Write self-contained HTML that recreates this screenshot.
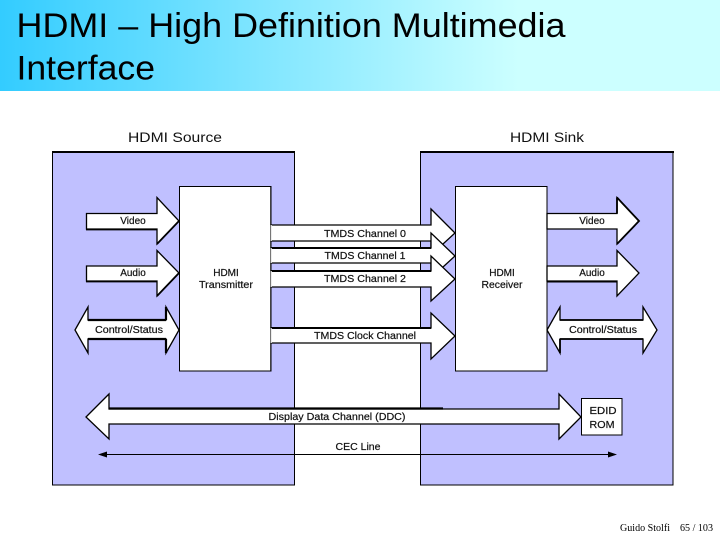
<!DOCTYPE html>
<html>
<head>
<meta charset="utf-8">
<style>
html,body{margin:0;padding:0;background:#fff;width:720px;height:540px;overflow:hidden}
svg{display:block}
text{font-family:"Liberation Sans",Arial,sans-serif;fill:#111}
.l{font-size:10px;text-anchor:middle;stroke:#111;stroke-width:0.2}
.a{fill:#fff;stroke:#000;stroke-width:1.3;stroke-linejoin:miter}
</style>
</head>
<body>
<svg width="720" height="540" viewBox="0 0 720 540" xmlns="http://www.w3.org/2000/svg">
<defs>
<linearGradient id="g" x1="0" x2="1" y1="0" y2="0">
<stop offset="0" stop-color="#33ccff"/>
<stop offset="0.72" stop-color="#ccffff"/>
<stop offset="1" stop-color="#ccffff"/>
</linearGradient>
</defs>
<rect x="0" y="0" width="720" height="91" fill="url(#g)"/>
<text x="16.5" y="37" font-size="34" textLength="549" lengthAdjust="spacingAndGlyphs" style="fill:#000">HDMI – High Definition Multimedia</text>
<text x="16.5" y="79.500" font-size="34" textLength="138.500" lengthAdjust="spacingAndGlyphs" style="fill:#000">Interface</text>

<text x="175" y="142" font-size="14" text-anchor="middle" textLength="94" lengthAdjust="spacingAndGlyphs">HDMI Source</text>
<text x="547" y="142" font-size="14" text-anchor="middle" textLength="74" lengthAdjust="spacingAndGlyphs">HDMI Sink</text>

<!-- panels -->
<rect x="52.5" y="152.5" width="242" height="332.5" fill="#c0c0ff" stroke="#000" stroke-width="1"/>
<rect x="420.5" y="152.5" width="252.5" height="332.5" fill="#c0c0ff" stroke="#000" stroke-width="1"/>
<rect x="52" y="151" width="243" height="2" fill="#000"/>
<rect x="420" y="151" width="254" height="2" fill="#000"/>

<!-- boxes -->
<rect x="179.5" y="186.5" width="91.500" height="184.500" fill="#fff" stroke="#000" stroke-width="1"/>
<rect x="455.500" y="186.5" width="91.500" height="184.500" fill="#fff" stroke="#000" stroke-width="1"/>
<rect x="581.500" y="398.500" width="40.500" height="36.500" fill="#fff" stroke="#000" stroke-width="1"/>

<!-- left inputs -->
<polygon class="a" points="86.500,213.500 157,213.500 157,197.500 179,221 157,244 157,229 86.500,229"/>
<path d="M86 229.500H157M157 244L179 221" stroke="#000" stroke-width="1.800" fill="none"/>
<polygon class="a" points="86.500,266 157,266 157,250.500 179,273 157,296 157,281 86.500,281"/>
<path d="M86 281.500H157M157 296L179 273" stroke="#000" stroke-width="1.800" fill="none"/>
<polygon class="a" points="75,330 88,307 88,320 166,320 166,307 179,330 166,353 166,339 88,339 88,353"/>
<path d="M88 320H166M88 339H166M166 307V320M166 339V353" stroke="#000" stroke-width="2.200" fill="none"/>

<!-- right outputs -->
<polygon class="a" points="547,213.500 617,213.500 617,197.500 639,221 617,244 617,229 547,229"/>
<path d="M617 197.500L639 221L617 244M617 197.500V213.500" stroke="#000" stroke-width="1.800" fill="none"/>
<polygon class="a" points="547,266 617,266 617,250.500 639,273 617,296 617,281 547,281"/>
<path d="M547 281.500H617" stroke="#000" stroke-width="2" fill="none"/>
<polygon class="a" points="547,330 560,307 560,320 643,320 643,307 657,330 643,353 643,339 560,339 560,353"/>
<path d="M560 320H643M560 339H643M560 339V353" stroke="#000" stroke-width="1.800" fill="none"/>

<!-- TMDS -->
<polygon class="a" points="271,225 431,225 431,209 455,233 431,255 431,241 271,241"/>
<polygon class="a" points="271,248 431,248 431,233 455,256 431,278 431,263 271,263"/>
<path d="M271 248H431" stroke="#000" stroke-width="2" fill="none"/>
<polygon class="a" points="271,271 431,271 431,256 455,279 431,301 431,287 271,287"/>
<path d="M271 271H431" stroke="#000" stroke-width="2" fill="none"/>
<polygon class="a" points="271,328 431,328 431,313 455,336 431,359 431,343 271,343"/>
<path d="M271 328H431" stroke="#000" stroke-width="2" fill="none"/>
<path d="M271 225V241M271 248V263M271 271V287M271 328V343" stroke="#fff" stroke-width="1.500" fill="none"/>
<path d="M270.500 186V371" stroke="#000" stroke-width="0.500" fill="none"/>

<!-- DDC -->
<polygon class="a" points="86,417 109,394 109,409 559,409 559,394 581,417 559,439 559,424 109,424 109,439"/>
<path d="M109 408.500H443" stroke="#000" stroke-width="2.200" fill="none"/>

<!-- CEC -->
<path d="M104 454.500H612" stroke="#000" stroke-width="1" fill="none"/>
<polygon points="98,454.500 107,451.500 107,457.500" fill="#000"/>
<polygon points="617,454.500 608,451.500 608,457.500" fill="#000"/>

<!-- labels -->
<text class="l" x="133" y="224">Video</text>
<text class="l" x="133" y="276">Audio</text>
<text class="l" x="129" y="333" textLength="68" lengthAdjust="spacingAndGlyphs">Control/Status</text>
<text class="l" x="226" y="276">HDMI</text>
<text class="l" x="226" y="288" textLength="54" lengthAdjust="spacingAndGlyphs">Transmitter</text>
<text class="l" x="365" y="237" textLength="82" lengthAdjust="spacingAndGlyphs">TMDS Channel 0</text>
<text class="l" x="365" y="259" textLength="81" lengthAdjust="spacingAndGlyphs">TMDS Channel 1</text>
<text class="l" x="365" y="282" textLength="82" lengthAdjust="spacingAndGlyphs">TMDS Channel 2</text>
<text class="l" x="365" y="339" textLength="102" lengthAdjust="spacingAndGlyphs">TMDS Clock Channel</text>
<text class="l" x="502" y="276">HDMI</text>
<text class="l" x="502" y="288" textLength="41" lengthAdjust="spacingAndGlyphs">Receiver</text>
<text class="l" x="592" y="224">Video</text>
<text class="l" x="592" y="276">Audio</text>
<text class="l" x="603" y="333" textLength="68" lengthAdjust="spacingAndGlyphs">Control/Status</text>
<text class="l" x="337" y="420" textLength="137" lengthAdjust="spacingAndGlyphs">Display Data Channel (DDC)</text>
<text class="l" x="358" y="450" textLength="45" lengthAdjust="spacingAndGlyphs">CEC Line</text>
<text class="l" x="603" y="414" textLength="27" lengthAdjust="spacingAndGlyphs">EDID</text>
<text class="l" x="602" y="428" textLength="25" lengthAdjust="spacingAndGlyphs">ROM</text>

<!-- footer -->
<text x="620" y="531" font-size="10.500" textLength="50" lengthAdjust="spacingAndGlyphs" style="font-family:'Liberation Serif',serif;fill:#000">Guido Stolfi</text>
<text x="680" y="531" font-size="10.500" textLength="33" lengthAdjust="spacingAndGlyphs" style="font-family:'Liberation Serif',serif;fill:#000">65 / 103</text>
</svg>
</body>
</html>
